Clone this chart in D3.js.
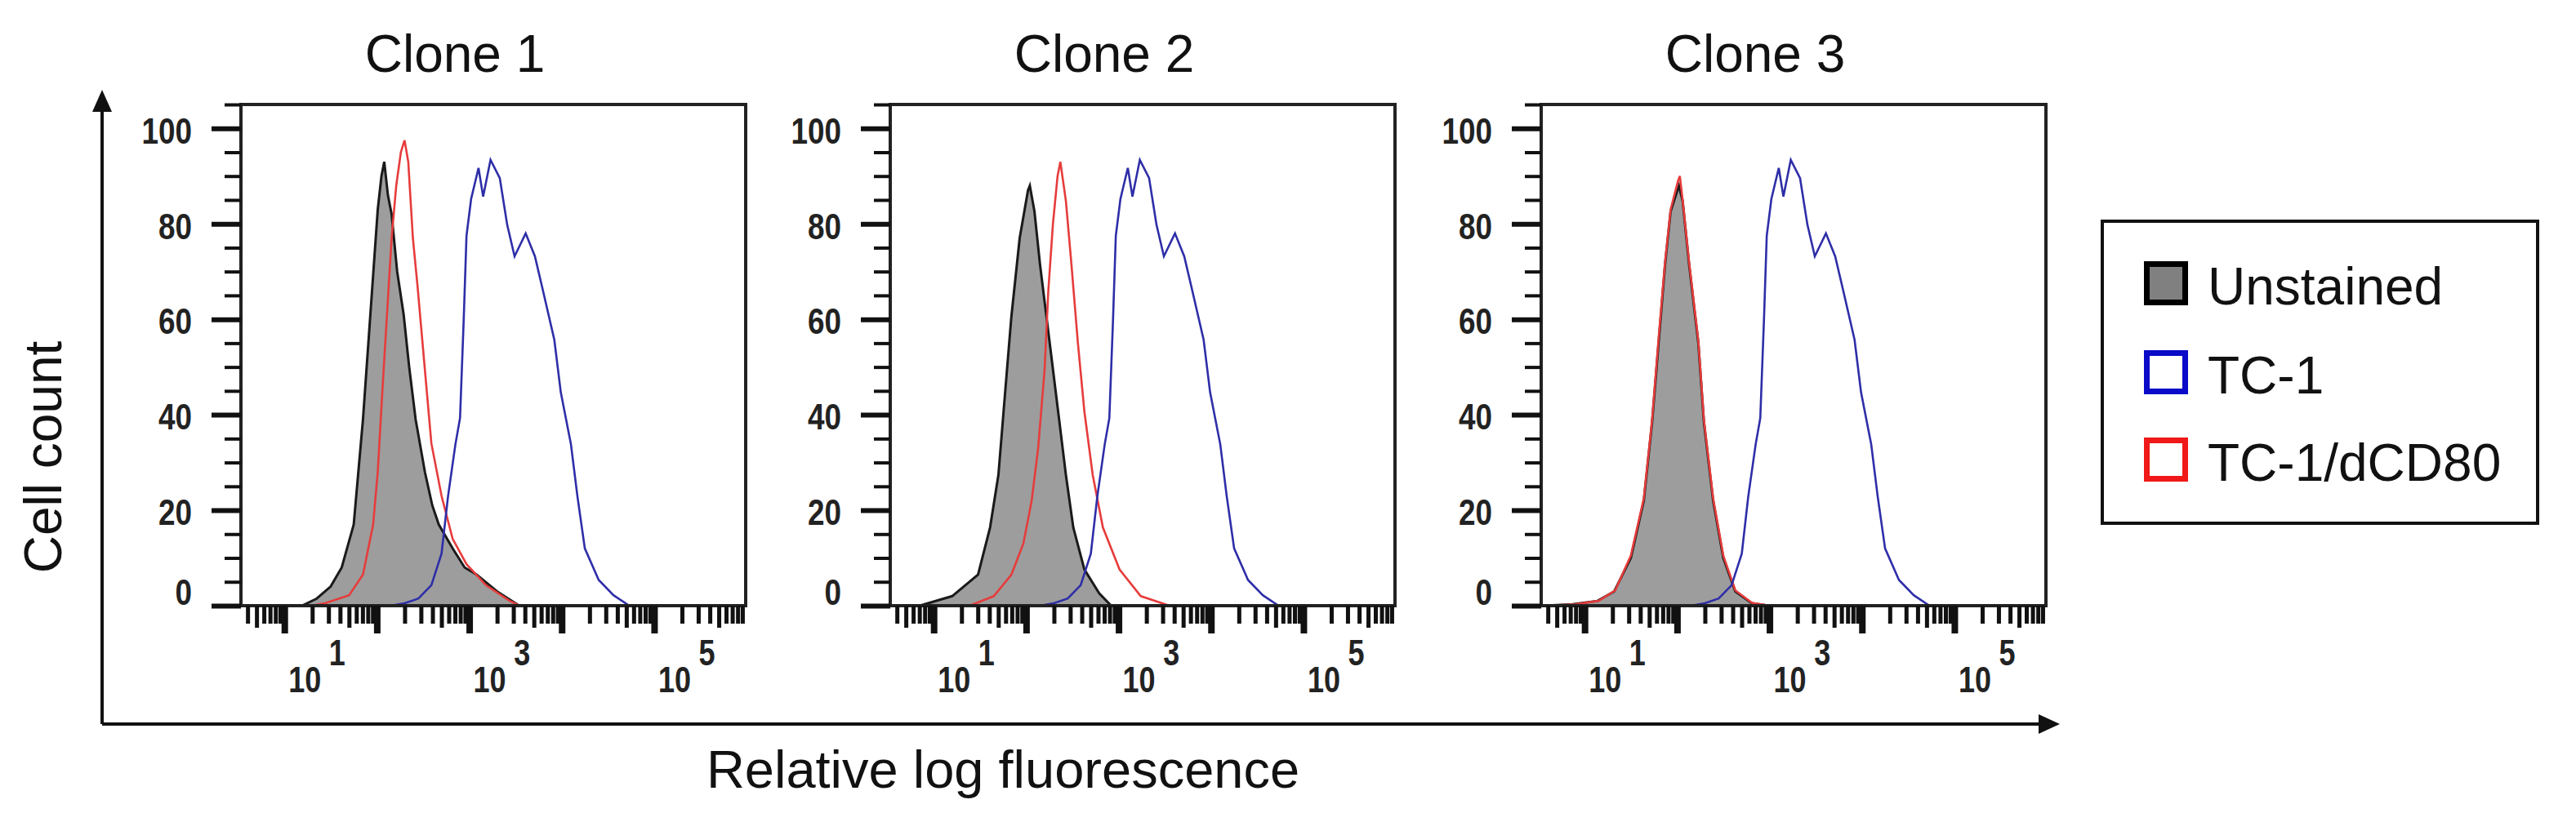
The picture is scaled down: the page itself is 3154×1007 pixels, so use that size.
<!DOCTYPE html>
<html>
<head>
<meta charset="utf-8">
<script src="https://cdn.jsdelivr.net/npm/d3@7"></script>
<style>
  body { margin: 0; background: #fff; }
  svg { display: block; }
  text { font-family: "Liberation Sans", Arial, sans-serif; fill: #111; }
</style>
</head>
<body>
<svg id="chart" width="3154" height="1007"></svg>
<script>
// ---- data: [log10 fluorescence, cell count] ----
var clones = ["Clone 1", "Clone 2", "Clone 3"];
var seriesNames = ["Unstained", "TC-1", "TC-1/dCD80"];
var yTicks = [0, 20, 40, 60, 80, 100];
var xLabelPowers = [1, 3, 5];

// TC-1 parental line, same sample in every panel
var tc1 = [[2.15,0],[2.3,0.5],[2.45,1.5],[2.59,4.3],[2.7,10.9],[2.77,22.9],[2.85,33.8],[2.9,39.3],
  [2.94,60],[2.97,77.5],[3.02,85.2],[3.1,91.7],[3.15,85.7],[3.23,93.4],[3.33,89.6],[3.41,79.8],
  [3.49,73.2],[3.61,78],[3.71,73.2],[3.79,66.6],[3.92,55.7],[3.99,44.7],[4.1,33.8],[4.17,22.9],
  [4.25,12],[4.4,5.4],[4.56,2.2],[4.73,0]];

var clone1Unstained = [[0.9,0],[1.19,0],[1.35,1.5],[1.5,4],[1.62,8],[1.75,17],[1.85,39],[1.93,61],
  [2.01,83],[2.05,90],[2.08,93],[2.12,86],[2.16,82],[2.22,70],[2.29,61],[2.35,50],[2.42,39],
  [2.52,28],[2.6,21],[2.67,17],[2.82,12],[2.95,8],[3.08,6.5],[3.3,3],[3.54,0]];
var clone1Dcd80 = [[1.3,0],[1.44,0.5],[1.7,2.2],[1.85,6.5],[1.96,17],[2.01,28],[2.06,45],[2.11,61],
  [2.16,77],[2.21,88],[2.26,95],[2.3,97.5],[2.34,93],[2.39,77],[2.44,67],[2.49,56],[2.54,45],
  [2.59,34],[2.7,23],[2.82,14],[2.97,8.7],[3.18,4.3],[3.43,1.1],[3.54,0]];

var clone2Unstained = [[0.85,0],[1.2,2],[1.48,6.5],[1.61,16.4],[1.7,27.4],[1.77,44],[1.84,60.5],
  [1.93,77],[2.02,87],[2.04,88],[2.09,82.6],[2.15,71.5],[2.22,60.5],[2.29,49.5],[2.36,38.5],
  [2.43,27.4],[2.51,16.4],[2.63,7.6],[2.79,2.6],[2.92,0]];
var clone2Dcd80 = [[1.39,0],[1.65,2],[1.84,6.5],[1.97,13],[2.06,22],[2.13,33],[2.2,49.5],[2.24,66],
  [2.29,80],[2.34,90],[2.37,93],[2.43,84.8],[2.49,71.5],[2.56,55],[2.63,40.7],[2.72,27.4],
  [2.83,16.4],[3.01,7.6],[3.24,2],[3.55,0]];

var clone3Unstained = [[0.56,0],[0.87,0.3],[1.14,1],[1.32,3],[1.5,10],[1.64,22],[1.73,38.5],[1.8,55],
  [1.87,71.5],[1.93,82.6],[2.02,88],[2.06,84.8],[2.13,71.5],[2.23,55],[2.29,38.5],[2.39,22],
  [2.5,10],[2.63,3],[2.81,0.5],[2.99,0]];
var clone3Dcd80 = [[0.6,0],[0.9,0.3],[1.15,1],[1.33,3.2],[1.5,10.5],[1.64,22.5],[1.73,39],[1.8,56],
  [1.87,72],[1.93,83],[2.01,89],[2.03,90],[2.06,85],[2.13,72],[2.23,55.5],[2.29,39],[2.39,22.5],
  [2.5,10.5],[2.63,3.2],[2.81,0.6],[3.0,0]];

var unstained = [clone1Unstained, clone2Unstained, clone3Unstained];
var dcd80 = [clone1Dcd80, clone2Dcd80, clone3Dcd80];

// ---- layout ----
var panelLeft = [295, 1090, 1887],
    frameW = 618, frameTop = 128, frameBottom = 742;

var svg = d3.select("#chart");

var xScale = d3.scaleLog().domain([Math.pow(10, 0.53), Math.pow(10, 5.99)]).range([0, frameW]);
var yScale = d3.scaleLinear().domain([0, 105]).range([frameBottom, frameTop]);

var px = d => xScale(Math.pow(10, d[0]));

var area = d3.area().x(px).y0(yScale(0)).y1(d => yScale(d[1]));
var line = d3.line().x(px).y(d => yScale(d[1]));

var minorY = d3.range(5, 106, 5).filter(v => v % 20 != 0);
var minorX = [], midX = [];
for (var k = 0; k <= 5; k++) {
  for (var m = 2; m <= 9; m++) {
    var v = m * Math.pow(10, k);
    if (v > xScale.domain()[0] && v < xScale.domain()[1]) (m == 5 ? midX : minorX).push(v);
  }
}
var majorX = [1, 2, 3, 4, 5].map(p => Math.pow(10, p));

clones.forEach(function(name, i) {
  var g = svg.append("g").attr("transform", "translate(" + panelLeft[i] + ",0)");

  g.append("clipPath").attr("id", "clip" + i)
    .append("rect").attr("x", 0).attr("y", frameTop).attr("width", frameW).attr("height", frameBottom - frameTop);

  var plot = g.append("g").attr("clip-path", "url(#clip" + i + ")");

  plot.append("path").datum(unstained[i])
    .attr("d", area).attr("fill", "#9d9d9d");
  plot.append("path").datum(unstained[i])
    .attr("d", line).attr("fill", "none").attr("stroke", "#1a1a1a").attr("stroke-width", 3);
  plot.append("path").datum(dcd80[i])
    .attr("d", line).attr("fill", "none").attr("stroke", "#e63c3c").attr("stroke-width", 2.6);
  plot.append("path").datum(tc1)
    .attr("d", line).attr("fill", "none").attr("stroke", "#2e2ea8").attr("stroke-width", 2.6);

  // frame
  g.append("rect").attr("x", 0).attr("y", frameTop).attr("width", frameW).attr("height", frameBottom - frameTop)
    .attr("fill", "none").attr("stroke", "#222").attr("stroke-width", 4);

  // y ticks
  g.append("g").call(d3.axisLeft(yScale).tickValues(yTicks).tickSize(36).tickFormat(""))
    .call(a => a.select(".domain").remove())
    .selectAll("line").attr("stroke", "#111").attr("stroke-width", 6);
  g.append("g").call(d3.axisLeft(yScale).tickValues(minorY).tickSize(20).tickFormat(""))
    .call(a => a.select(".domain").remove())
    .selectAll("line").attr("stroke", "#111").attr("stroke-width", 4);

  g.selectAll(".ylab").data(yTicks).enter().append("text")
    .attr("class", "ylab")
    .attr("transform", d => "translate(-60," + (yScale(d) + (d == 0 ? -16 : 3)) + ") scale(0.82,1)")
    .attr("text-anchor", "end").attr("dominant-baseline", "central")
    .style("font-size", "45px").style("font-weight", "bold").style("fill", "#222")
    .text(d => d);

  // x ticks
  var xg = g.append("g").attr("transform", "translate(0," + frameBottom + ")");
  xg.append("g").call(d3.axisBottom(xScale).tickValues(minorX).tickSize(22).tickFormat(""))
    .call(a => a.select(".domain").remove())
    .selectAll("line").attr("stroke", "#111").attr("stroke-width", 5);
  xg.append("g").call(d3.axisBottom(xScale).tickValues(midX).tickSize(27).tickFormat(""))
    .call(a => a.select(".domain").remove())
    .selectAll("line").attr("stroke", "#111").attr("stroke-width", 5);
  xg.append("g").call(d3.axisBottom(xScale).tickValues(majorX).tickSize(34).tickFormat(""))
    .call(a => a.select(".domain").remove())
    .selectAll("line").attr("stroke", "#111").attr("stroke-width", 8);

  var xl = g.selectAll(".xlab").data(xLabelPowers).enter().append("text")
    .attr("class", "xlab")
    .attr("transform", p => "translate(" + (xScale(Math.pow(10, p)) + 5) + ",848) scale(0.8,1)")
    .style("font-size", "45px").style("font-weight", "bold").style("fill", "#222");
  xl.append("tspan").text("10");
  xl.append("tspan").attr("dx", 12).attr("dy", -33).text(p => p);

  // title
  svg.append("text")
    .attr("x", panelLeft[i] + 262).attr("y", 88)
    .attr("text-anchor", "middle").style("font-size", "64px")
    .text(name);
});

// outer axes with arrows
svg.append("path").attr("d", "M125,887 V125 M125,887 H2505")
  .attr("fill", "none").attr("stroke", "#111").attr("stroke-width", 4);
svg.append("path").attr("d", "M125,110 L113,137 L137,137 Z").attr("fill", "#111");
svg.append("path").attr("d", "M2522,887 L2496,875 L2496,899 Z").attr("fill", "#111");

svg.append("text")
  .attr("transform", "translate(75,560) rotate(-90)")
  .attr("text-anchor", "middle").style("font-size", "64px")
  .text("Cell count");
svg.append("text")
  .attr("x", 1228).attr("y", 965)
  .attr("text-anchor", "middle").style("font-size", "65px")
  .text("Relative log fluorescence");

// legend
var legend = svg.append("g");
legend.append("rect").attr("x", 2574).attr("y", 271).attr("width", 533).attr("height", 370)
  .attr("fill", "#fff").attr("stroke", "#111").attr("stroke-width", 4);
var swFill = ["#808080", "#fff", "#fff"], swStroke = ["#000", "#0a0ac8", "#f01818"];
var row = legend.selectAll(".row").data(seriesNames).enter().append("g")
  .attr("transform", (d, j) => "translate(2625," + [320, 429, 536][j] + ")");
row.append("rect").attr("x", 3.5).attr("y", 3.5).attr("width", 47).attr("height", 47)
  .attr("fill", (d, j) => swFill[j]).attr("stroke", (d, j) => swStroke[j]).attr("stroke-width", 7);
row.append("text").attr("x", 78).attr("y", 53).style("font-size", "64px").text(d => d);
</script>
</body>
</html>
